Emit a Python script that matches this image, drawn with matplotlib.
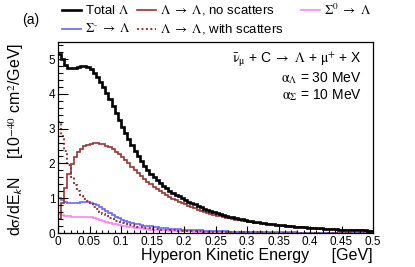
import numpy as np
import matplotlib
matplotlib.use("Agg")
import matplotlib.pyplot as plt
from matplotlib.lines import Line2D
from matplotlib.ticker import MultipleLocator, FormatStrFormatter

plt.rcParams['font.family'] = ['Liberation Sans', 'DejaVu Sans']
plt.rcParams['mathtext.fontset'] = 'stix'

# ---- data (per-bin values, 100 bins of 5 MeV from 0 to 0.5 GeV) ----
e_min, e_max, n_bins = 0.0, 0.5, 100

total_lambda = [5.15, 5.00, 4.82, 4.75, 4.74, 4.74, 4.77, 4.79, 4.79, 4.76,
                4.70, 4.60, 4.48, 4.35, 4.20, 4.03, 3.85, 3.66, 3.46, 3.25,
                3.05, 2.87, 2.69, 2.52, 2.36, 2.21, 2.07, 1.94, 1.82, 1.71,
                1.61, 1.52, 1.44, 1.36, 1.29, 1.22, 1.16, 1.10, 1.05, 1.00,
                0.95, 0.90, 0.86, 0.82, 0.78, 0.74, 0.70, 0.67, 0.63, 0.60,
                0.57, 0.54, 0.52, 0.49, 0.47, 0.45, 0.43, 0.41, 0.39, 0.37,
                0.355, 0.34, 0.325, 0.31, 0.295, 0.28, 0.27, 0.26, 0.25, 0.24,
                0.23, 0.22, 0.21, 0.20, 0.19, 0.18, 0.175, 0.17, 0.16, 0.155,
                0.15, 0.14, 0.135, 0.13, 0.125, 0.12, 0.115, 0.11, 0.105, 0.10,
                0.095, 0.092, 0.088, 0.085, 0.082, 0.078, 0.075, 0.072, 0.068, 0.065]

lambda_no_scat = [0.40, 0.85, 1.30, 1.70, 1.98, 2.18, 2.32, 2.42, 2.50, 2.54,
                  2.57, 2.58, 2.58, 2.57, 2.55, 2.51, 2.47, 2.41, 2.34, 2.26,
                  2.18, 2.09, 2.00, 1.91, 1.81, 1.72, 1.63, 1.55, 1.47, 1.40,
                  1.33, 1.26, 1.20, 1.14, 1.09, 1.04, 0.99, 0.94, 0.90, 0.86,
                  0.82, 0.78, 0.74, 0.71, 0.67, 0.64, 0.61, 0.58, 0.55, 0.52,
                  0.50, 0.48, 0.46, 0.44, 0.42, 0.40, 0.385, 0.37, 0.355, 0.34,
                  0.325, 0.31, 0.30, 0.29, 0.275, 0.265, 0.255, 0.245, 0.235, 0.225,
                  0.215, 0.205, 0.195, 0.19, 0.18, 0.17, 0.165, 0.16, 0.15, 0.145,
                  0.14, 0.133, 0.128, 0.123, 0.118, 0.113, 0.108, 0.104, 0.10, 0.095,
                  0.091, 0.088, 0.084, 0.081, 0.078, 0.075, 0.072, 0.069, 0.065, 0.062]

lambda_with_scat = [3.20, 2.80, 2.35, 1.95, 1.62, 1.38, 1.20, 1.07, 0.98, 0.91,
                    0.84, 0.76, 0.68, 0.60, 0.54, 0.48, 0.43, 0.39, 0.35, 0.32,
                    0.29, 0.26, 0.24, 0.22, 0.20, 0.18, 0.165, 0.15, 0.14, 0.13,
                    0.12, 0.11, 0.10, 0.095, 0.09, 0.085, 0.08, 0.075, 0.07, 0.066,
                    0.062, 0.058, 0.055, 0.052, 0.049, 0.046, 0.043, 0.041, 0.039, 0.037,
                    0.035, 0.033, 0.031, 0.029, 0.028, 0.026, 0.025, 0.024, 0.022, 0.021,
                    0.020, 0.019, 0.018, 0.017, 0.016, 0.016, 0.015, 0.014, 0.013, 0.013,
                    0.012, 0.012, 0.011, 0.011, 0.010, 0.010, 0.009, 0.009, 0.009, 0.008,
                    0.008, 0.008, 0.007, 0.007, 0.007, 0.007, 0.006, 0.006, 0.006, 0.006,
                    0.005, 0.005, 0.005, 0.005, 0.005, 0.004, 0.004, 0.004, 0.004, 0.004]

sigma_minus = [1.00, 0.95, 0.89, 0.87, 0.86, 0.86, 0.87, 0.88, 0.89, 0.89,
               0.87, 0.84, 0.80, 0.75, 0.69, 0.63, 0.57, 0.52, 0.47, 0.42,
               0.38, 0.35, 0.32, 0.29, 0.27, 0.25, 0.23, 0.21, 0.20, 0.19,
               0.175, 0.165, 0.155, 0.145, 0.135, 0.125, 0.12, 0.11, 0.105, 0.10,
               0.095, 0.09, 0.085, 0.08, 0.076, 0.072, 0.068, 0.064, 0.06, 0.057,
               0.054, 0.051, 0.048, 0.045, 0.043, 0.041, 0.039, 0.037, 0.035, 0.033,
               0.031, 0.030, 0.028, 0.027, 0.026, 0.024, 0.023, 0.022, 0.021, 0.020,
               0.019, 0.018, 0.017, 0.016, 0.016, 0.015, 0.014, 0.014, 0.013, 0.012,
               0.012, 0.011, 0.011, 0.010, 0.010, 0.010, 0.009, 0.009, 0.009, 0.008,
               0.008, 0.008, 0.007, 0.007, 0.007, 0.007, 0.006, 0.006, 0.006, 0.006]

sigma_zero = [0.56, 0.52, 0.49, 0.48, 0.47, 0.47, 0.47, 0.47, 0.46, 0.46,
              0.45, 0.43, 0.41, 0.38, 0.35, 0.32, 0.29, 0.27, 0.25, 0.23,
              0.21, 0.19, 0.175, 0.16, 0.15, 0.14, 0.13, 0.12, 0.11, 0.10,
              0.095, 0.09, 0.085, 0.08, 0.075, 0.07, 0.066, 0.062, 0.058, 0.055,
              0.052, 0.049, 0.046, 0.043, 0.041, 0.039, 0.037, 0.035, 0.033, 0.031,
              0.029, 0.028, 0.026, 0.025, 0.024, 0.022, 0.021, 0.020, 0.019, 0.018,
              0.017, 0.016, 0.016, 0.015, 0.014, 0.013, 0.013, 0.012, 0.012, 0.011,
              0.011, 0.010, 0.010, 0.009, 0.009, 0.009, 0.008, 0.008, 0.008, 0.007,
              0.007, 0.007, 0.006, 0.006, 0.006, 0.006, 0.005, 0.005, 0.005, 0.005,
              0.005, 0.004, 0.004, 0.004, 0.004, 0.004, 0.004, 0.003, 0.003, 0.003]

labels = {
    'total': r'Total $\Lambda$',
    'noscat': r'$\Lambda\ \rightarrow\ \Lambda$, no scatters',
    'sig0': r'$\Sigma^{0}\ \rightarrow\ \Lambda$',
    'sigm': r'$\Sigma^{\text{-}}\ \rightarrow\ \Lambda$',
    'withscat': r'$\Lambda\ \rightarrow\ \Lambda$, with scatters',
}

c_black = 'black'
c_red = '#993333'
c_blue = '#6666ff'
c_pink = '#ff80ff'

edges = np.linspace(e_min, e_max, n_bins + 1)

fig = plt.figure(figsize=(4.15, 2.67), dpi=100)
ax = fig.add_axes([58/415, 34/267, 315/415, 191/267])

ax.stairs(sigma_zero, edges, baseline=None, color=c_pink, lw=1.2)
ax.stairs(sigma_minus, edges, baseline=None, color=c_blue, lw=1.2)
ax.stairs(lambda_with_scat, edges, baseline=None, color=c_red, lw=1.4, ls=(0, (1, 1.3)))
ax.stairs(lambda_no_scat, edges, baseline=None, color=c_red, lw=1.2)
ax.stairs(total_lambda, edges, baseline=None, color=c_black, lw=1.9)

ax.set_xlim(0, 0.5)
ax.set_ylim(0, 5.49)
ax.xaxis.set_major_locator(MultipleLocator(0.05))
ax.xaxis.set_minor_locator(MultipleLocator(0.01))
ax.yaxis.set_major_locator(MultipleLocator(1))
ax.yaxis.set_minor_locator(MultipleLocator(0.2))
ax.xaxis.set_major_formatter(FormatStrFormatter('%g'))
ax.yaxis.set_major_formatter(FormatStrFormatter('%g'))
ax.tick_params(axis='both', which='both', direction='in', top=False, right=False,
               labelsize=8.5, width=0.8, pad=2)
ax.tick_params(axis='x', which='major', length=5)
ax.tick_params(axis='x', which='minor', length=2.5)
ax.tick_params(axis='y', which='major', length=7)
ax.tick_params(axis='y', which='minor', length=3.5)
for s in ax.spines.values():
    s.set_linewidth(0.9)

ax.set_xlabel('Hyperon Kinetic Energy     [GeV]', fontsize=11.5, loc='right', labelpad=0)
ax.set_ylabel(r'd$\mathrm{\sigma}$/dE$_{\mathsf{k}}$N    [10$^{-40}$ cm$^{2}$/GeV]',
              fontsize=11.5, labelpad=4)
ax.yaxis.set_label_coords(-0.10, 0.49)

ax.text(0.965, 0.905,
        r'$\bar{\mathrm{\nu}}_{\mathrm{\mu}}$ + C $\rightarrow$ $\mathrm{\Lambda}$ + $\mathrm{\mu}^{+}$ + X',
        transform=ax.transAxes, ha='right', va='center', fontsize=10)
ax.text(0.965, 0.81, r'$\mathrm{\alpha}_{\mathrm{\Lambda}}$ = 30 MeV',
        transform=ax.transAxes, ha='right', va='center', fontsize=10)
ax.text(0.965, 0.72, r'$\mathrm{\alpha}_{\mathrm{\Sigma}}$ = 10 MeV',
        transform=ax.transAxes, ha='right', va='center', fontsize=10)

# legend (manual, ROOT-like layout)
W, H = 415.0, 267.0
def leg_entry(x0, y, color, ls, lw, text):
    fig.add_artist(Line2D([x0/W, (x0+19)/W], [1-y/H, 1-y/H], color=color, ls=ls, lw=lw,
                          transform=fig.transFigure))
    fig.text((x0+23)/W, 1-y/H, text, ha='left', va='center', fontsize=9.5)

leg_entry(62, 10, c_black, '-', 1.9, labels['total'])
leg_entry(137, 10, c_red, '-', 1.2, labels['noscat'])
leg_entry(301, 10, c_pink, '-', 1.2, labels['sig0'])
leg_entry(62, 29, c_blue, '-', 1.2, labels['sigm'])
leg_entry(137, 29, c_red, (0, (1, 1.3)), 1.4, labels['withscat'])

fig.text(22/W, 1-20/H, '(a)', ha='left', va='center', fontsize=10)

fig.savefig('out.png', dpi=100)
